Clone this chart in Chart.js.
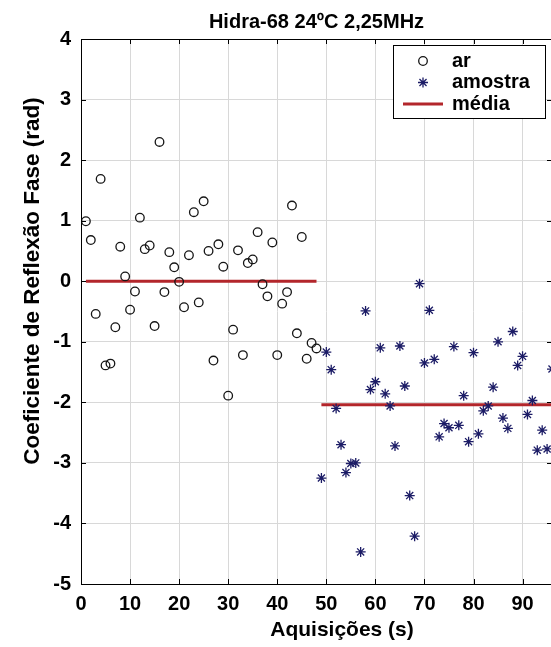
<!DOCTYPE html>
<html>
<head>
<meta charset="utf-8">
<script src="https://cdn.jsdelivr.net/npm/chart.js@4.4.1/dist/chart.umd.min.js"></script>
<style>
  html, body { margin: 0; padding: 0; background: #fff; overflow: hidden; width: 551px; height: 647px; }
  canvas { display: block; }
</style>
</head>
<body>
<canvas id="c" width="600" height="647"></canvas>
<script>
// ---- texts ----
const chartTitle = 'Hidra-68 24ºC 2,25MHz';
const xTitle = 'Aquisições (s)';
const yTitle = 'Coeficiente de Reflexão Fase (rad)';
const seriesLabels = ['ar', 'amostra', 'média'];

// ---- phase readings in air (acquisitions 1–48) ----
const arX = [1, 2, 3, 4, 5, 6, 7, 8, 9, 10, 11, 12, 13, 14, 15, 16, 17, 18, 19, 20, 21, 22, 23, 24,
             25, 26, 27, 28, 29, 30, 31, 32, 33, 34, 35, 36, 37, 38, 39, 40, 41, 42, 43, 44, 45, 46, 47, 48];
const arY = [0.99, 0.68, -0.54, 1.69, -1.39, -1.36, -0.76, 0.57, 0.08, -0.47, -0.17, 1.05,
             0.53, 0.59, -0.74, 2.30, -0.18, 0.48, 0.23, -0.01, -0.43, 0.43, 1.14, -0.35,
             1.32, 0.50, -1.31, 0.61, 0.24, -1.89, -0.80, 0.51, -1.22, 0.30, 0.36, 0.81,
             -0.05, -0.25, 0.64, -1.22, -0.37, -0.18, 1.25, -0.86, 0.73, -1.28, -1.02, -1.11];

// ---- phase readings with the sample (acquisitions 49–96) ----
const amostraX = [49, 50, 51, 52, 53, 54, 55, 56, 57, 58, 59, 60, 61, 62, 63, 64, 65, 66, 67, 68, 69, 70, 71, 72,
                  73, 74, 75, 76, 77, 78, 79, 80, 81, 82, 83, 84, 85, 86, 87, 88, 89, 90, 91, 92, 93, 94, 95, 96];
const amostraY = [-3.25, -1.17, -1.46, -2.10, -2.70, -3.16, -3.01, -3.00, -4.47, -0.49, -1.79, -1.66,
                  -1.10, -1.86, -2.06, -2.72, -1.07, -1.73, -3.54, -4.21, -0.04, -1.35, -0.48, -1.29,
                  -2.57, -2.35, -2.42, -1.08, -2.38, -1.89, -2.65, -1.18, -2.52, -2.14, -2.06, -1.75,
                  -1.00, -2.26, -2.43, -0.83, -1.39, -1.24, -2.20, -1.97, -2.79, -2.46, -2.77, -1.45];

// ---- mean levels and the acquisitions they span ----
const mediaArX = [1, 48];
const mediaArY = [0.0, 0.0];
const mediaAmostraX = [49, 96];
const mediaAmostraY = [-2.04, -2.04];

// ---- axes ----
const xTicks = [0, 10, 20, 30, 40, 50, 60, 70, 80, 90];
const yTicks = [-5, -4, -3, -2, -1, 0, 1, 2, 3, 4];
const xRange = [0, 96];
const yRange = [-5, 4];

const FONT = "'Liberation Sans', Arial, Helvetica, sans-serif";
const toPoints = (xs, ys) => xs.map((x, i) => ({ x, y: ys[i] }));

// both mean segments in one dataset, separated by a gap
const mediaPoints = toPoints(mediaArX, mediaArY)
  .concat([{ x: (mediaArX[1] + mediaAmostraX[0]) / 2, y: null }])
  .concat(toPoints(mediaAmostraX, mediaAmostraY));

// frame with inward tick marks
const framePlugin = {
  id: 'frameTicks',
  afterDatasetsDraw(chart) {
    const { ctx, chartArea: a, scales: { x, y } } = chart;
    const L = 5;
    ctx.save();
    ctx.strokeStyle = '#000';
    ctx.lineWidth = 1;
    ctx.beginPath();
    ctx.rect(Math.round(a.left) + 0.5, Math.round(a.top) + 0.5,
             Math.round(a.right - a.left), Math.round(a.bottom - a.top));
    x.ticks.forEach(t => {
      const px = Math.round(x.getPixelForValue(t.value)) + 0.5;
      ctx.moveTo(px, a.bottom); ctx.lineTo(px, a.bottom - L);
      ctx.moveTo(px, a.top); ctx.lineTo(px, a.top + L);
    });
    y.ticks.forEach(t => {
      const py = Math.round(y.getPixelForValue(t.value)) + 0.5;
      ctx.moveTo(a.left, py); ctx.lineTo(a.left + L, py);
      ctx.moveTo(a.right, py); ctx.lineTo(a.right - L, py);
    });
    ctx.stroke();
    ctx.restore();
  }
};

// axis captions placed freely
const captionPlugin = {
  id: 'captions',
  afterDraw(chart, args, opts) {
    const { ctx } = chart;
    ctx.save();
    ctx.fillStyle = '#000';
    ctx.textAlign = 'center';
    ctx.textBaseline = 'alphabetic';
    ctx.font = 'bold ' + opts.x.size + 'px ' + FONT;
    ctx.fillText(xTitle, opts.x.cx, opts.x.baseline);
    ctx.font = 'bold ' + opts.y.size + 'px ' + FONT;
    ctx.translate(opts.y.baseline, opts.y.cy);
    ctx.rotate(-Math.PI / 2);
    ctx.fillText(yTitle, 0, 0);
    ctx.restore();
  }
};

// boxed legend inside the upper-right corner of the plot
const legendPlugin = {
  id: 'innerLegend',
  afterDraw(chart, args, opts) {
    const { ctx, chartArea: a } = chart;
    const w = opts.width, h = opts.height;
    const x0 = Math.round(a.right - opts.marginRight - w);
    const y0 = Math.round(a.top + opts.marginTop);
    ctx.save();
    ctx.fillStyle = '#fff';
    ctx.fillRect(x0, y0, w, h);
    ctx.strokeStyle = '#000';
    ctx.lineWidth = 1;
    ctx.strokeRect(x0 + 0.5, y0 + 0.5, w, h);
    ctx.font = 'bold 20px ' + FONT;
    ctx.textBaseline = 'middle';
    ctx.textAlign = 'left';
    chart.data.datasets.forEach((ds, i) => {
      const cy = y0 + opts.firstRow + i * opts.rowGap;
      if (ds.showLine) {
        ctx.strokeStyle = ds.borderColor;
        ctx.lineWidth = ds.borderWidth;
        ctx.beginPath();
        ctx.moveTo(x0 + 10, cy);
        ctx.lineTo(x0 + 50, cy);
        ctx.stroke();
      } else {
        ctx.strokeStyle = ds.borderColor;
        ctx.fillStyle = 'rgba(0,0,0,0)';
        ctx.lineWidth = ds.borderWidth;
        Chart.helpers.drawPoint(ctx, { pointStyle: ds.pointStyle, radius: ds.pointRadius, borderWidth: ds.borderWidth }, x0 + 30, cy);
      }
      ctx.fillStyle = '#000';
      ctx.fillText(ds.label, x0 + 59, cy);
    });
    ctx.restore();
  }
};

new Chart(document.getElementById('c'), {
  type: 'scatter',
  data: {
    datasets: [
      {
        label: seriesLabels[0],
        data: toPoints(arX, arY),
        pointStyle: 'circle',
        pointRadius: 4.3,
        borderWidth: 1.3,
        borderColor: '#151515',
        backgroundColor: 'rgba(0,0,0,0)',
        showLine: false,
        clip: false
      },
      {
        label: seriesLabels[1],
        data: toPoints(amostraX, amostraY),
        pointStyle: 'star',
        pointRadius: 5,
        borderWidth: 1.3,
        borderColor: '#1c1c66',
        backgroundColor: '#1c1c66',
        showLine: false,
        clip: false
      },
      {
        type: 'line',
        label: seriesLabels[2],
        data: mediaPoints,
        borderColor: '#b3262b',
        borderWidth: 3,
        pointRadius: 0,
        showLine: true,
        spanGaps: false,
        fill: false
      }
    ]
  },
  options: {
    responsive: false,
    animation: false,
    devicePixelRatio: 1,
    layout: { padding: { left: 0, right: 48, top: 0, bottom: 0 } },
    plugins: {
      legend: { display: false },
      tooltip: { enabled: false },
      title: {
        display: true,
        text: chartTitle,
        fullSize: false,
        color: '#000',
        font: { family: FONT, size: 20, weight: 'bold', lineHeight: 1.2 },
        padding: { top: 10, bottom: 5 }
      },
      captions: {
        x: { cx: 342, baseline: 636, size: 21 },
        y: { baseline: 39, cy: 281, size: 22.5 }
      },
      innerLegend: { width: 152, height: 73, marginRight: 7, marginTop: 6, firstRow: 16, rowGap: 21.5 }
    },
    scales: {
      x: {
        type: 'linear',
        min: xRange[0],
        max: xRange[1],
        afterBuildTicks: s => { s.ticks = xTicks.map(v => ({ value: v })); },
        afterFit: s => { s.height = 63; },
        grid: { color: '#d8d8d8', lineWidth: 1, drawTicks: false },
        border: { display: false },
        ticks: {
          color: '#000',
          padding: 8,
          maxRotation: 0,
          autoSkip: false,
          font: { family: FONT, size: 20, weight: 'bold' }
        }
      },
      y: {
        type: 'linear',
        min: yRange[0],
        max: yRange[1],
        afterBuildTicks: s => { s.ticks = yTicks.map(v => ({ value: v })); },
        afterFit: s => { s.width = 81; },
        grid: { color: '#d8d8d8', lineWidth: 1, drawTicks: false },
        border: { display: false },
        ticks: {
          color: '#000',
          padding: 10,
          autoSkip: false,
          font: { family: FONT, size: 20, weight: 'bold' }
        }
      }
    }
  },
  plugins: [framePlugin, captionPlugin, legendPlugin]
});
</script>
</body>
</html>
